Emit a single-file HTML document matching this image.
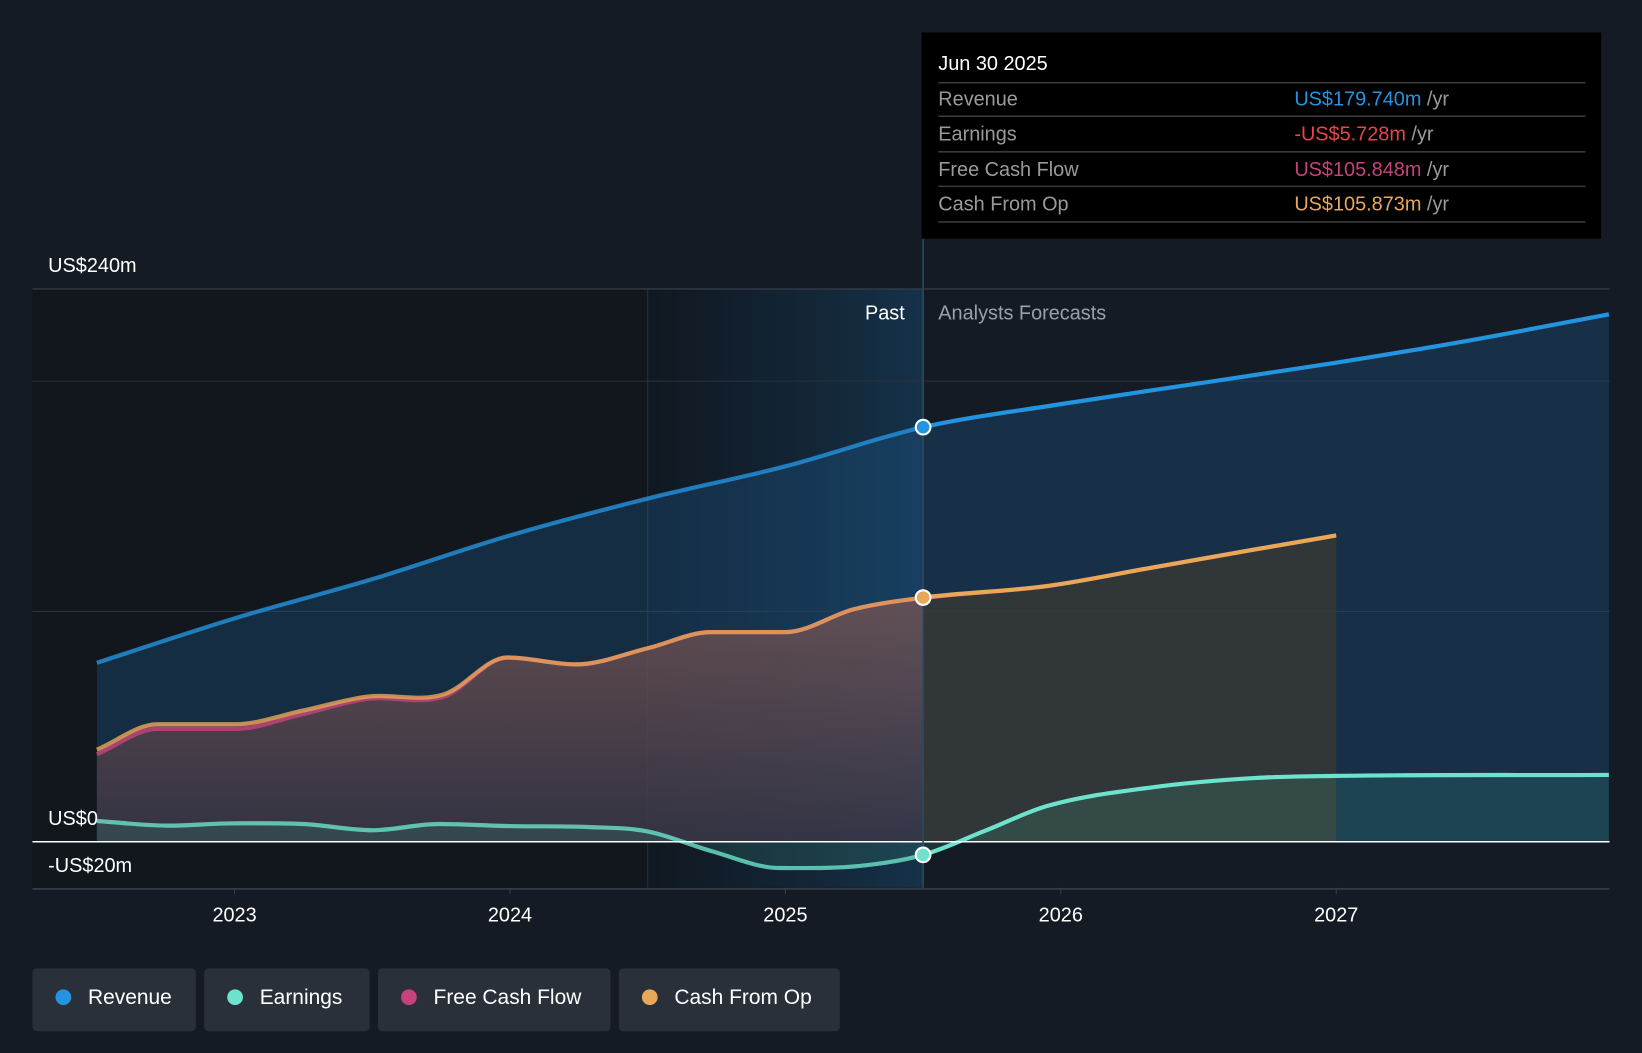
<!DOCTYPE html>
<html><head><meta charset="utf-8">
<style>
html,body{margin:0;padding:0;background:#151b24;overflow:hidden;width:1642px;height:1048px}
#wrap{position:absolute;left:0;top:0;width:1568px;height:1001px;transform:scale(1.04719,1.04695);transform-origin:0 0;font-family:"Liberation Sans",sans-serif}
svg text{font-family:"Liberation Sans",sans-serif}
.legend{position:absolute;top:925px;height:60px;background:#2a303a;border-radius:4px;color:#fff;font-size:20px;line-height:56px;box-sizing:border-box;padding-left:53px}
.legend i{position:absolute;left:22px;top:20px;width:15px;height:15px;border-radius:50%}
</style></head><body>
<div id="wrap">
<svg id="chart" width="1568" height="1001"></svg>
<div class="legend" style="left:31px;width:156px"><i style="background:#2394df"></i>Revenue</div>
<div class="legend" style="left:195px;width:158px"><i style="background:#6de2cc"></i>Earnings</div>
<div class="legend" style="left:361px;width:222px"><i style="background:#c7427d"></i>Free Cash Flow</div>
<div class="legend" style="left:591px;width:211px"><i style="background:#e8a857"></i>Cash From Op</div>
</div>
<script>
const revT=[2022.5,2023,2023.5,2024,2024.5,2025,2025.5,2026,2026.5,2027,2027.5,2027.99];
const revV=[77.7,97,114,133,149,163,180,190,199,208,218,229];
const cfoT=[2022.5,2022.72,2023,2023.25,2023.48,2023.76,2023.99,2024.24,2024.5,2024.73,2025,2025.25,2025.5,2025.95,2026.33,2026.71,2027];
const cfoV=[40,51,51,57,63,64,80,77,84,91,91,101,106,111,119,127,133];
const fcfV=[38,49,49,55.5,62,63,80,77,84,91,91,101,105.8,111,119,127,133];
const earnT=[2022.5,2022.76,2023,2023.25,2023.5,2023.74,2024,2024.28,2024.5,2024.73,2024.98,2025.27,2025.5,2025.73,2025.95,2026.33,2026.71,2027,2027.99];
const earnV=[9,7,8,7.7,5,7.7,6.8,6.4,4.5,-4,-11.4,-10.5,-5.7,5,15.5,23.6,27.7,28.6,29];
const yTicks=[240,0,-20];
const yTickLabels=["US$240m","US$0","-US$20m"];
const gridVals=[240,200,100];
const xTicks=[2023,2024,2025,2026,2027];
const NOW=2025.5;

const X=t=>224+(t-2023)*263;
const Y=v=>804-v*2.2;
const svg=document.getElementById('chart');
const NS='http://www.w3.org/2000/svg';
function mk(tag,attrs,parent){const e=document.createElementNS(NS,tag);for(const k in attrs)e.setAttribute(k,attrs[k]);(parent||svg).appendChild(e);return e;}
function smooth(ts,vs){
  const p=ts.map((t,i)=>[X(t),Y(vs[i])]);const n=p.length;
  const d=[],m=[];for(let i=0;i<n-1;i++)d.push((p[i+1][1]-p[i][1])/(p[i+1][0]-p[i][0]));
  for(let i=0;i<n;i++){if(i==0)m.push(d[0]);else if(i==n-1)m.push(d[n-2]);else m.push(d[i-1]*d[i]<=0?0:(d[i-1]+d[i])/2);}
  let s='M'+p[0][0]+','+p[0][1];
  for(let i=0;i<n-1;i++){const h=(p[i+1][0]-p[i][0])/3;s+=` C${p[i][0]+h},${p[i][1]+m[i]*h} ${p[i+1][0]-h},${p[i+1][1]-m[i+1]*h} ${p[i+1][0]},${p[i+1][1]}`;}
  return s;}
function area(ts,vs){return smooth(ts,vs)+` L${X(ts[ts.length-1])},${Y(0)} L${X(ts[0])},${Y(0)} Z`;}

const defs=mk('defs',{});
defs.innerHTML='<linearGradient id="band" x1="0" x2="1"><stop offset="0" stop-color="#0f1a24" stop-opacity="0.6"/><stop offset="1" stop-color="#163955" stop-opacity="0.8"/></linearGradient>'+
'<linearGradient id="cfoPast" x1="0" y1="0" x2="0" y2="1"><stop offset="0" stop-color="#8a5e58" stop-opacity="0.75"/><stop offset="1" stop-color="#3a3442" stop-opacity="0.8"/></linearGradient>'+
'<clipPath id="past"><rect x="0" y="0" width="'+X(NOW)+'" height="1001"/></clipPath><clipPath id="fut"><rect x="'+X(NOW)+'" y="0" width="1000" height="1001"/></clipPath>';

let e;
e=mk('rect',{x:31,y:Y(240),width:X(NOW)-31,height:Y(-20)-Y(240),fill:'#12161d'});

e=mk('rect',{x:X(2024.5),y:Y(240),width:X(NOW)-X(2024.5),height:Y(-20)-Y(240),fill:'url(#band)'});

mk('line',{x1:X(2024.5),x2:X(2024.5),y1:Y(240),y2:Y(-20),stroke:'#24303c','stroke-width':1});
gridVals.forEach(v=>{e=mk('line',{x1:31,x2:1537,y1:Y(v),y2:Y(v),stroke:v==240?'#3a414c':'#2b323d','stroke-width':1});
});

e=mk('path',{d:area(revT,revV),fill:'#1e5a8c','fill-opacity':0.35});

e=mk('path',{d:area(cfoT,cfoV),fill:'url(#cfoPast)','clip-path':'url(#past)'});

e=mk('path',{d:area(cfoT,cfoV),fill:'#3c3a32','fill-opacity':0.7,'clip-path':'url(#fut)'});

e=mk('path',{d:area(earnT,earnV),fill:'#3a8c80','fill-opacity':0.22});


const lines=[[revT,revV,'#2394df','revenue-line'],[cfoT,fcfV,'#c7427d','free-cash-flow-line'],[cfoT,cfoV,'#e8a857','cash-from-op-line'],[earnT,earnV,'#6de2cc','earnings-line']];
lines.forEach(([t,v,c,n])=>{
  e=mk('path',{d:smooth(t,v),fill:'none',stroke:c,'stroke-width':4,'stroke-opacity':0.8,'clip-path':'url(#past)'});
  
  e=mk('path',{d:smooth(t,v),fill:'none',stroke:c,'stroke-width':4,'clip-path':'url(#fut)'});
  
});

e=mk('line',{x1:31,x2:1537,y1:Y(0),y2:Y(0),stroke:'#ffffff','stroke-width':1.5});

e=mk('line',{x1:31,x2:1537,y1:Y(-20)+1,y2:Y(-20)+1,stroke:'#3a414c','stroke-width':1.5});

e=mk('line',{x1:X(NOW),x2:X(NOW),y1:228,y2:Y(-20),stroke:'#2e4a60','stroke-width':1.5});


[[revV[6],'#2394df','revenue-marker'],[cfoV[12],'#e8a857','cash-from-op-marker'],[earnV[12],'#6de2cc','earnings-marker']].forEach(([v,c,n])=>{
  e=mk('circle',{cx:X(NOW),cy:Y(v),r:7,fill:c,stroke:'#fff','stroke-width':2});
  });

yTicks.forEach((v,i)=>{e=mk('text',{x:46,y:v==-20?Y(v)-15:Y(v)-16,fill:'#fff','font-size':19});e.textContent=yTickLabels[i];
});
xTicks.forEach(t=>{mk('line',{x1:X(t),x2:X(t),y1:Y(-20),y2:Y(-20)+6,stroke:'#3a414c'});
e=mk('text',{x:X(t),y:880,fill:'#fff','font-size':19,'text-anchor':'middle'});e.textContent=t;
});

e=mk('text',{x:864,y:305,fill:'#fff','font-size':19,'text-anchor':'end'});e.textContent='Past';

e=mk('text',{x:896,y:305,fill:'#9aa0a8','font-size':19});e.textContent='Analysts Forecasts';


const tg=mk('g',{});

mk('rect',{x:880,y:31,width:649,height:197,fill:'#000'},tg);
e=mk('text',{x:896,y:67,fill:'#fff','font-size':19},tg);e.textContent='Jun 30 2025';
const rows=[['Revenue','US$179.740m','#2394df'],['Earnings','-US$5.728m','#e84545'],['Free Cash Flow','US$105.848m','#c7427d'],['Cash From Op','US$105.873m','#e8a857']];
const rowY=[101,134,168,201];
[79,111,145,178,212].forEach(y=>mk('line',{x1:896,x2:1514,y1:y,y2:y,stroke:'#3a3a3a','stroke-width':1.5},tg));
rows.forEach((r,i)=>{
  e=mk('text',{x:896,y:rowY[i],fill:'#9a9a9a','font-size':19},tg);e.textContent=r[0];
  
  e=mk('text',{x:1236,y:rowY[i],fill:r[2],'font-size':19},tg);e.textContent=r[1];
  const ts=mk('tspan',{fill:'#9a9a9a'},e);ts.textContent=' /yr';
  
});
</script>
</body></html>
